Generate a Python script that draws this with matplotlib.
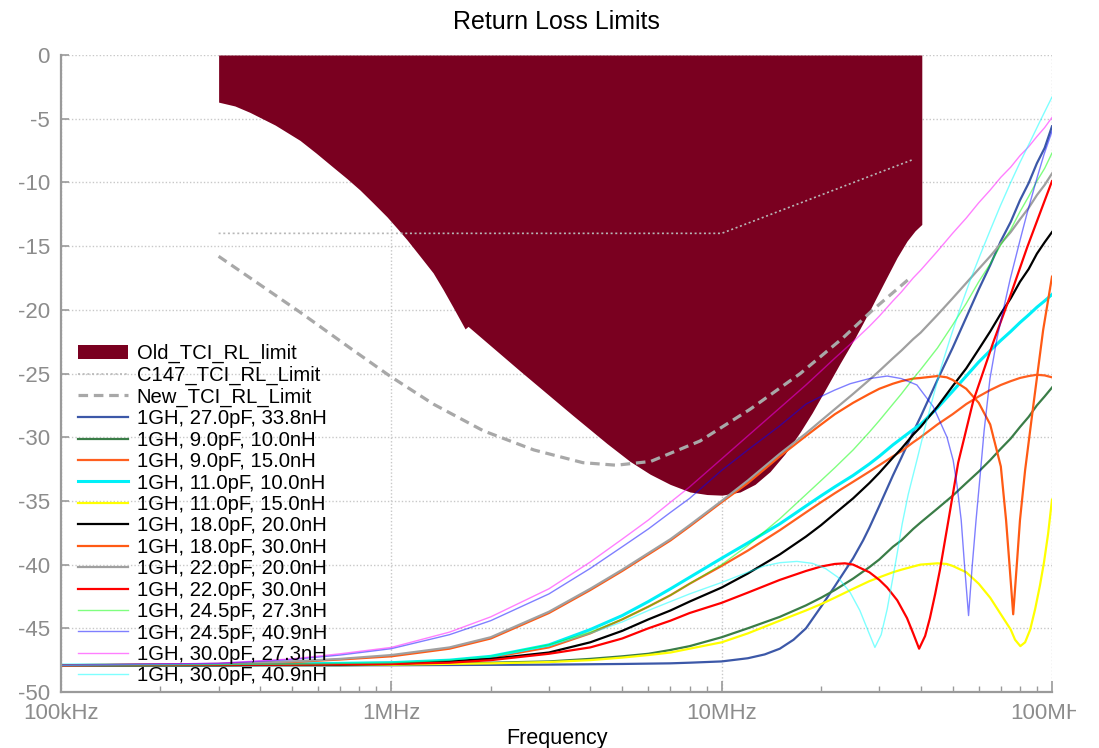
import matplotlib
matplotlib.use("Agg")
import matplotlib.pyplot as plt
from matplotlib.transforms import Bbox, TransformedBbox

plt.rcParams['font.family'] = ['Liberation Sans', 'DejaVu Sans']

# frequencies in MHz, return loss in dB
old_f = [0.3, 0.336, 0.373, 0.445, 0.529, 0.592, 0.666, 0.734, 0.804, 0.88, 0.97, 1.041, 1.115, 1.222, 1.338,
         1.434, 1.538, 1.672, 1.707, 2.453, 3.549, 4.498, 5.281, 6.07, 6.98, 8.02, 9.03, 10.03, 11.37, 12.62,
         14.01, 15.56, 17.28, 18.78, 20.56, 22.83, 25.34, 28.14, 31.25, 33.96, 36.41, 38.5, 40.35]
old_rl = [-3.7, -4.0, -4.5, -5.5, -6.7, -7.7, -8.8, -9.7, -10.6, -11.6, -12.7, -13.6, -14.5, -15.8, -17.1,
          -18.4, -19.8, -21.5, -21.3, -24.8, -28.3, -30.5, -31.9, -32.9, -33.7, -34.3, -34.5, -34.55, -34.3, -33.7,
          -32.7, -31.3, -29.6, -28.1, -26.3, -24.2, -22.2, -20.0, -17.7, -15.9, -14.6, -13.8, -13.3]

c147_f = [0.3, 10, 38]
c147_rl = [-14, -14, -8.2]

new_f = [0.3, 0.42, 0.53, 0.75, 0.99, 1.34, 1.9, 2.7, 3.8, 4.8, 6.1, 8.6, 12.2, 17.3, 23.3, 28.7, 37.2]
new_rl = [-15.8, -18.4, -20.2, -23.0, -25.2, -27.4, -29.5, -31.0, -32.0, -32.2, -31.9, -30.3, -27.8, -25.0,
          -22.2, -20.0, -17.5]

# shared frequency points for the smooth curves
f_std = [0.1, 0.3, 0.5, 0.7, 1, 1.5, 2, 3, 4, 5, 6, 7, 8, 10, 12, 15, 18, 20, 22, 25, 28, 30, 33, 35, 38, 40,
         45, 50, 55, 60, 65, 70, 75, 80, 85, 90, 95, 100]

# 1GH, 27.0pF, 33.8nH
f_a = [0.1, 1, 3, 5, 7, 8, 10, 12, 13.5, 15, 16.5, 18, 20, 22, 25, 26.8, 28, 30, 33, 35, 38, 40, 45, 50, 55, 60,
       65, 70, 75, 80, 85, 90, 95, 100]
rl_a = [-47.9, -47.9, -47.85, -47.8, -47.75, -47.7, -47.6, -47.35, -47.05, -46.6, -45.9, -45.0, -43.3, -41.7,
        -39.5, -38.1, -37.1, -35.4, -33.0, -31.6, -29.6, -28.4, -25.5, -23.0, -20.6, -18.4, -16.5, -14.6, -13.1,
        -11.4, -10.05, -8.5, -7.3, -5.6]

# 1GH, 9.0pF, 10.0nH
rl_b = [-47.9, -47.9, -47.9, -47.9, -47.85, -47.8, -47.7, -47.6, -47.4, -47.2, -47.0, -46.7, -46.4, -45.7,
        -45.0, -44.1, -43.2, -42.6, -42.0, -41.1, -40.2, -39.6, -38.6, -38.1, -37.2, -36.7, -35.6, -34.6, -33.6,
        -32.7, -31.8, -30.9, -30.1, -29.2, -28.4, -27.5, -26.8, -26.1]

# 1GH, 9.0pF, 15.0nH
rl_c = [-47.9, -47.85, -47.8, -47.75, -47.7, -47.55, -47.3, -46.5, -45.4, -44.3, -43.3, -42.4, -41.5, -40.1,
        -38.9, -37.3, -35.9, -35.1, -34.4, -33.5, -32.7, -32.2, -31.5, -31.1, -30.4, -30.0, -29.0, -28.2, -27.4,
        -26.8, -26.3, -25.9, -25.6, -25.35, -25.2, -25.1, -25.15, -25.3]

# 1GH, 11.0pF, 10.0nH
rl_d = [-47.9, -47.85, -47.8, -47.75, -47.7, -47.5, -47.2, -46.3, -45.1, -44.0, -42.9, -41.9, -41.0, -39.5,
        -38.3, -36.8, -35.4, -34.6, -33.9, -33.0, -32.1, -31.5, -30.6, -30.1, -29.4, -29.0, -27.7, -26.4, -25.2,
        -24.1, -23.2, -22.4, -21.7, -21.0, -20.4, -19.8, -19.3, -18.8]

# 1GH, 11.0pF, 15.0nH
f_e = [0.1, 1, 2, 3, 4, 5, 6, 7, 8, 10, 12, 15, 18, 20, 22, 25, 28, 30, 33, 35, 38, 40, 45, 48, 50, 55, 60, 65,
       70, 75, 77.3, 80.2, 82.9, 85.9, 88.9, 92.0, 94.6, 97.3, 100]
rl_e = [-47.9, -47.85, -47.75, -47.65, -47.5, -47.3, -47.1, -46.9, -46.6, -46.1, -45.4, -44.4, -43.6, -43.1,
        -42.6, -41.9, -41.3, -41.0, -40.6, -40.4, -40.15, -40.0, -39.9, -39.95, -40.1, -40.6, -41.5, -42.6,
        -43.9, -45.1, -45.9, -46.4, -46.1, -45.1, -43.5, -41.6, -39.8, -37.6, -34.9]

# 1GH, 18.0pF, 20.0nH
rl_f = [-47.9, -47.9, -47.85, -47.85, -47.8, -47.6, -47.4, -46.9, -46.1, -45.2, -44.3, -43.6, -42.9, -41.8,
        -40.7, -39.2, -37.8, -36.9, -36.0, -34.8, -33.6, -32.8, -31.6, -30.9, -29.8, -29.2, -27.6, -26.0, -24.6,
        -23.1, -21.7, -20.3, -19.1, -17.8, -16.8, -15.6, -14.7, -13.9]

# 1GH, 18.0pF, 30.0nH
f_g = [0.1, 0.3, 0.5, 0.7, 1, 1.5, 2, 3, 4, 5, 6, 7, 8, 10, 12, 15, 18, 20, 22, 25, 28, 30, 33, 35, 38, 40, 45,
       48, 50, 55, 60, 65, 70, 72.6, 74.2, 76.3, 78.4, 80, 82.9, 87.7, 94, 100]
rl_g = [-47.9, -47.8, -47.65, -47.45, -47.2, -46.6, -45.8, -43.8, -42.0, -40.5, -39.2, -38.1, -37.0, -35.1,
        -33.6, -31.5, -29.9, -29.0, -28.2, -27.3, -26.6, -26.2, -25.8, -25.6, -25.4, -25.35, -25.2, -25.3, -25.5,
        -26.2, -27.3, -29.0, -32.3, -36.5, -39.7, -43.9, -39.7, -36.5, -32.6, -27.6, -21.6, -17.4]

# 1GH, 22.0pF, 20.0nH
rl_h = [-47.9, -47.8, -47.6, -47.4, -47.1, -46.5, -45.7, -43.7, -41.9, -40.4, -39.1, -38.0, -36.9, -35.0,
        -33.4, -31.3, -29.7, -28.7, -27.8, -26.6, -25.5, -24.8, -23.8, -23.2, -22.3, -21.8, -20.4, -19.1, -17.9,
        -16.8, -15.8, -14.8, -13.9, -12.9, -12.0, -11.0, -10.2, -9.3]

# 1GH, 22.0pF, 30.0nH
f_i = [0.1, 0.5, 1, 1.5, 2, 3, 4, 5, 6, 7, 8, 10, 12, 15, 18, 20, 22, 23.6, 25, 28, 30, 31.7, 34, 36.4, 38, 39.6,
       41.3, 42.7, 44.3, 45.8, 48.6, 52, 57.7, 66.3, 75, 84.1, 92, 100]
rl_i = [-47.9, -47.85, -47.8, -47.7, -47.5, -47.0, -46.5, -45.8, -45.0, -44.4, -43.8, -43.0, -42.2, -41.2,
        -40.5, -40.15, -39.95, -39.9, -40.0, -40.6, -41.2, -41.8, -42.8, -44.2, -45.4, -46.6, -45.6, -44.2,
        -42.3, -40.4, -36.5, -32.0, -27.2, -22.6, -18.8, -15.1, -12.4, -9.9]

# 1GH, 24.5pF, 27.3nH
rl_j = [-47.9, -47.85, -47.8, -47.75, -47.7, -47.5, -47.2, -46.3, -45.3, -44.3, -43.3, -42.4, -41.5, -40.0,
        -38.5, -36.4, -34.5, -33.4, -32.4, -31.0, -29.6, -28.7, -27.4, -26.6, -25.4, -24.7, -23.0, -21.2, -19.5,
        -17.8, -16.4, -14.9, -13.7, -12.3, -11.1, -9.9, -8.9, -7.7]

# 1GH, 24.5pF, 40.9nH
f_k = [0.1, 0.3, 0.5, 0.7, 1, 1.5, 2, 3, 4, 5, 6, 7, 8, 10, 12, 15, 18, 20, 22, 24.5, 28, 31.7, 35, 39, 43.7,
       48.1, 50.2, 51.6, 53.1, 54.4, 55.9, 57.3, 58.9, 60.6, 62.3, 64.9, 68.2, 71.1, 74.7, 80.1, 84.1, 90.2,
       94.6, 100]
rl_k = [-47.9, -47.75, -47.45, -47.1, -46.6, -45.5, -44.4, -42.3, -40.3, -38.6, -37.2, -35.9, -34.8, -32.6,
        -31.0, -29.1, -27.4, -26.8, -26.3, -25.8, -25.4, -25.2, -25.4, -25.9, -27.6, -30.0, -31.8, -33.8, -36.5,
        -40.2, -44.0, -40.2, -36.5, -33.0, -29.5, -25.4, -22.2, -20.1, -17.6, -14.5, -12.4, -9.6, -7.8, -6.0]

# 1GH, 30.0pF, 27.3nH
rl_l = [-47.9, -47.75, -47.4, -47.0, -46.5, -45.3, -44.1, -41.9, -39.8, -38.0, -36.5, -35.1, -33.9, -31.7,
        -29.9, -27.7, -25.9, -24.8, -23.8, -22.5, -21.3, -20.5, -19.3, -18.6, -17.5, -16.9, -15.4, -14.0, -12.8,
        -11.6, -10.6, -9.6, -8.8, -7.9, -7.2, -6.4, -5.7, -4.9]

# 1GH, 30.0pF, 40.9nH
f_m = [0.1, 0.5, 1, 1.5, 2, 3, 4, 5, 6, 7, 8, 10, 12, 13.5, 15, 16.9, 18.8, 20.6, 22.5, 24.5, 26.2, 27.75, 29.1,
       30.4, 31.7, 33.0, 34.0, 35.2, 36.7, 39.0, 41.3, 43.7, 46.2, 49.1, 52.7, 56.5, 60.6, 64.9, 69.6, 74.7,
       80.1, 85.9, 92.0, 100]
rl_m = [-47.9, -47.8, -47.7, -47.5, -47.2, -46.4, -45.4, -44.5, -43.6, -42.9, -42.3, -41.4, -40.6, -40.1,
        -39.85, -39.75, -39.9, -40.3, -41.0, -42.2, -43.6, -45.2, -46.5, -45.5, -43.5, -41.0, -39.1, -36.8,
        -34.5, -31.8, -29.2, -26.8, -24.5, -22.3, -19.9, -17.7, -15.7, -13.8, -11.9, -10.1, -8.4, -6.8, -5.2,
        -3.3]

labels = ['1GH, 27.0pF, 33.8nH', '1GH, 9.0pF, 10.0nH', '1GH, 9.0pF, 15.0nH', '1GH, 11.0pF, 10.0nH',
          '1GH, 11.0pF, 15.0nH', '1GH, 18.0pF, 20.0nH', '1GH, 18.0pF, 30.0nH', '1GH, 22.0pF, 20.0nH',
          '1GH, 22.0pF, 30.0nH', '1GH, 24.5pF, 27.3nH', '1GH, 24.5pF, 40.9nH', '1GH, 30.0pF, 27.3nH',
          '1GH, 30.0pF, 40.9nH']
freqs = [f_a, f_std, f_std, f_std, f_e, f_std, f_g, f_std, f_i, f_std, f_k, f_std, f_m]
losses = [rl_a, rl_b, rl_c, rl_d, rl_e, rl_f, rl_g, rl_h, rl_i, rl_j, rl_k, rl_l, rl_m]
colors = ['#3C58A8', '#3A7D47', '#FF5F1F', '#00F0F8', '#FFFF00', '#000000', '#FF5A14', '#A0A0A0',
          '#FF0000', '#00FF00', '#0000FF', '#FF00FF', '#00FFFF']
widths = [1.6, 1.6, 1.6, 2.2, 1.6, 1.6, 1.6, 1.6, 1.6, 1.0, 1.0, 1.0, 1.0]
alphas = [1, 1, 1, 1, 1, 1, 1, 1, 1, 0.5, 0.5, 0.5, 0.5]

fig = plt.figure(figsize=(10.99, 7.48), dpi=100)
ax = fig.add_axes([61 / 1099, 1 - 692 / 748, 991 / 1099, 637 / 748])

ax.fill_between(old_f, old_rl, 0, color='#7A0020', lw=0, label='Old_TCI_RL_limit', zorder=1.5)
ax.plot(c147_f, c147_rl, ls=(0, (1.2, 1.6)), color='#B8B8B8', lw=1.2, label='C147_TCI_RL_Limit', zorder=3)
ax.plot(new_f, new_rl, ls=(0, (3, 1.8)), color='#A8A8A8', lw=2.3, label='New_TCI_RL_Limit', zorder=3)

for f, rl, lab, c, w, a in zip(freqs, losses, labels, colors, widths, alphas):
    ax.plot(f, rl, color=c, lw=w, alpha=a, label=lab, zorder=2)

ax.set_xscale('log')
ax.set_xlim(0.1, 100)
ax.set_ylim(-50, 0)
ax.set_xticks([0.1, 1, 10, 100], labels=['100kHz', '1MHz', '10MHz', '100MHz'])
yt = list(range(-50, 1, 5))
ax.set_yticks(yt, labels=[str(v) for v in yt])

ax.set_axisbelow(True)
ax.grid(True, which='major', ls=(0, (1, 1.5)), color='#C8C8C8', lw=1)
for s in ['top', 'right']:
    ax.spines[s].set_visible(False)
for s in ['left', 'bottom']:
    ax.spines[s].set_color('#9A9A9A')
    ax.spines[s].set_linewidth(1.6)

ax.tick_params(axis='both', which='both', direction='in', color='#9A9A9A', labelcolor='#8C8C8C',
               labelsize=16)
ax.tick_params(axis='x', which='major', length=8, width=1.2, pad=8)
ax.tick_params(axis='x', which='minor', length=4.5, width=1.0)
ax.tick_params(axis='y', which='major', length=6, width=1.2, pad=8)

# the last frequency label is cut off at the right side of the canvas
last_lab = ax.xaxis.get_major_ticks()[-1].label1
last_lab.set_clip_on(True)
last_lab.set_clip_box(TransformedBbox(Bbox([[0, 0], [1076 / 1099, 1]]), fig.transFigure))

ax.set_title('Return Loss Limits', fontsize=18, pad=19)
ax.set_xlabel('Frequency', fontsize=15.5, labelpad=3)

ax.legend(loc='upper left', bbox_to_anchor=(0.017, 0.546), frameon=False, fontsize=14.6,
          labelspacing=0.12, handlelength=2.46, handletextpad=0.45, borderpad=0, borderaxespad=0)

fig.savefig('out.png', dpi=100)
